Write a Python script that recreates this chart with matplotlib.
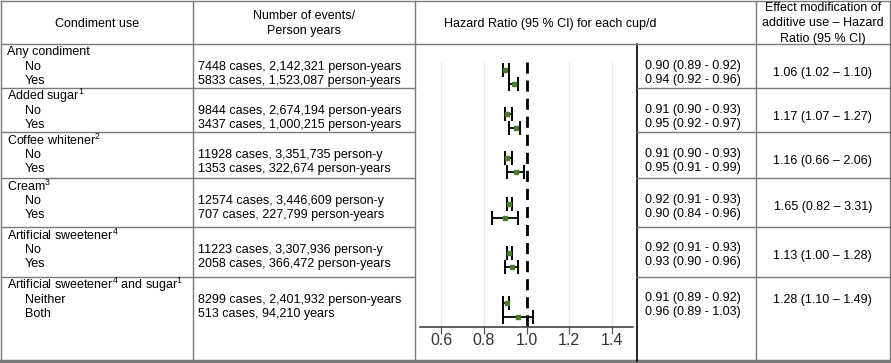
import matplotlib
matplotlib.use("Agg")
import matplotlib.pyplot as plt

plt.rcParams['font.family'] = ['Liberation Sans', 'DejaVu Sans']
plt.rcParams['mathtext.fontset'] = 'custom'
plt.rcParams['mathtext.rm'] = 'Liberation Sans'

# ---------------- data ----------------
groups = [r"Any condiment",
          r"Added sugar$^{\mathregular{1}}$",
          r"Coffee whitener$^{\mathregular{2}}$",
          r"Cream$^{\mathregular{3}}$",
          r"Artificial sweetener$^{\mathregular{4}}$",
          r"Artificial sweetener$^{\mathregular{4}}$ and sugar$^{\mathregular{1}}$"]
sub_labels = [["No", "Yes"], ["No", "Yes"], ["No", "Yes"],
              ["No", "Yes"], ["No", "Yes"], ["Neither", "Both"]]
events = [["7448 cases, 2,142,321 person-years", "5833 cases, 1,523,087 person-years"],
          ["9844 cases, 2,674,194 person-years", "3437 cases, 1,000,215 person-years"],
          ["11928 cases, 3,351,735 person-y", "1353 cases, 322,674 person-years"],
          ["12574 cases, 3,446,609 person-y", "707 cases, 227,799 person-years"],
          ["11223 cases, 3,307,936 person-y", "2058 cases, 366,472 person-years"],
          ["8299 cases, 2,401,932 person-years", "513 cases, 94,210 years"]]
hr = [[0.90, 0.94], [0.91, 0.95], [0.91, 0.95], [0.92, 0.90], [0.92, 0.93], [0.91, 0.96]]
hr_lo = [[0.89, 0.92], [0.90, 0.92], [0.90, 0.91], [0.91, 0.84], [0.91, 0.90], [0.89, 0.89]]
hr_hi = [[0.92, 0.96], [0.93, 0.97], [0.93, 0.99], [0.93, 0.96], [0.93, 0.96], [0.92, 1.03]]
em = [1.06, 1.17, 1.16, 1.65, 1.13, 1.28]
em_lo = [1.02, 1.07, 0.66, 0.82, 1.00, 1.10]
em_hi = [1.10, 1.27, 2.06, 3.31, 1.28, 1.49]
xticks = [0.6, 0.8, 1.0, 1.2, 1.4]
headers = ["Condiment use", "Number of events/\nPerson years",
           "Hazard Ratio (95 % CI) for each cup/d",
           "Effect modification of\nadditive use \u2013 Hazard\nRatio (95 % CI)"]

# ---------------- layout (pixels) ----------------
W, H = 891, 363
fig = plt.figure(figsize=(W / 100, H / 100), dpi=100)
bg = fig.add_axes([0, 0, 1, 1])
bg.set_xlim(0, W)
bg.set_ylim(H, 0)
bg.axis('off')

FS = 9
GRAY = '#7a7a7a'
x_left, x_c1, x_c2, x_c3, x_c4, x_right = 1, 193, 415, 637, 756, 889.5
y_top, y_head, y_bot = 1, 44, 361
group_tops = [44, 88, 132, 178, 227, 277]

# borders
bg.plot([x_left, x_right], [y_top, y_top], color=GRAY, lw=1)
bg.plot([x_left, x_right], [y_bot, y_bot], color=GRAY, lw=2.5)
bg.plot([x_left, x_left], [y_top, y_bot], color=GRAY, lw=1)
bg.plot([x_right, x_right], [y_top, y_bot], color=GRAY, lw=1)
for xc in (x_c1, x_c2, x_c4):
    bg.plot([xc, xc], [y_top, y_bot], color=GRAY, lw=1)
bg.plot([x_c3, x_c3], [y_head, y_bot], color='black', lw=1.2)
bg.plot([x_left, x_right], [y_head, y_head], color=GRAY, lw=1)
for yt in group_tops[1:]:
    bg.plot([x_left, x_c2], [yt, yt], color=GRAY, lw=1)
    bg.plot([x_c3, x_right], [yt, yt], color=GRAY, lw=1)

# headers
bg.text((x_left + x_c1) / 2, 24, headers[0], ha='center', va='center', fontsize=FS)
bg.text((x_c1 + x_c2) / 2, 23.5, headers[1], ha='center', va='center', fontsize=FS,
        linespacing=1.35)
bg.text(550, 24, headers[2], ha='center', va='center', fontsize=FS)
bg.text((x_c4 + x_right) / 2, 23.5, headers[3], ha='center', va='center', fontsize=FS,
        linespacing=1.38)

# forest axes
ax_l, ax_r, ax_t, ax_b = 420, 633, 44, 327
ax = fig.add_axes([ax_l / W, 1 - ax_b / H, (ax_r - ax_l) / W, (ax_b - ax_t) / H])
ax.set_xlim(0.5, 1.5)
ax.set_ylim(ax_b, ax_t)
ax.patch.set_alpha(0)
for s in ('top', 'left', 'right'):
    ax.spines[s].set_visible(False)
ax.spines['bottom'].set_color('#333333')
ax.spines['bottom'].set_linewidth(1.1)
ax.set_yticks([])
ax.set_xticks(xticks)
ax.set_xticklabels([f"{t:.1f}" for t in xticks], fontsize=11.5, color='#333333')
ax.tick_params(axis='x', direction='out', length=5, width=0.9, color='#555555', pad=-1)
ax.vlines([t for t in xticks if t != 1.0], 62, ax_b, color='#e6ecee', lw=1, zorder=0)
ax.vlines(1.0, 62, ax_b, color='black', lw=2, linestyles=(0, (4, 2.5)), zorder=1)

for g, top in enumerate(group_tops):
    bg.text(7, top + 8, groups[g], ha='left', va='center', fontsize=FS)
    for k in range(2):
        yt = top + 23 + 14 * k
        bg.text(25, yt, sub_labels[g][k], ha='left', va='center', fontsize=FS)
        bg.text(198, yt, events[g][k], ha='left', va='center', fontsize=FS)
        bg.text(645, yt - 1.5, f"{hr[g][k]:.2f} ({hr_lo[g][k]:.2f} - {hr_hi[g][k]:.2f})",
                ha='left', va='center', fontsize=FS)
        ym = yt + 3
        ax.errorbar(hr[g][k], ym,
                    xerr=[[hr[g][k] - hr_lo[g][k]], [hr_hi[g][k] - hr[g][k]]],
                    fmt='s', color='#4d7a2a', markersize=3.0, ecolor='black',
                    elinewidth=1.3, capsize=5, capthick=1.4, zorder=3)
    em_y = top + 23 if g == len(group_tops) - 1 else top + 29
    bg.text((x_c4 + x_right) / 2, em_y, f"{em[g]:.2f} ({em_lo[g]:.2f} \u2013 {em_hi[g]:.2f})",
            ha='center', va='center', fontsize=FS)

fig.savefig("out.png", dpi=100)
